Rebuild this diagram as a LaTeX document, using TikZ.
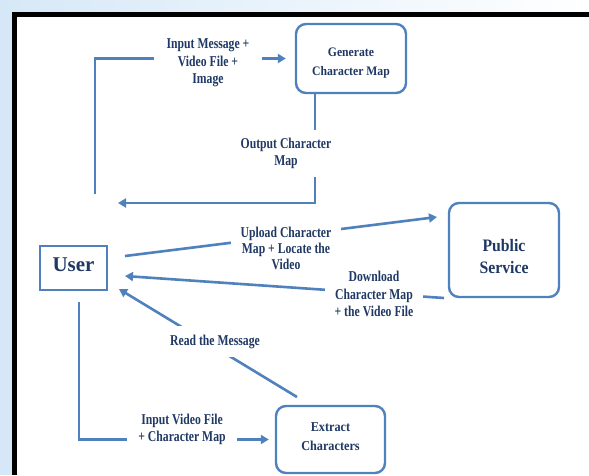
\documentclass[tikz,border=0pt]{standalone}
\usepackage{fontspec}
\setmainfont{Liberation Serif}
\newfontfamily\lblfont{Liberation Serif}[FakeStretch=0.78]
\newfontfamily\boxfont{Liberation Serif}[FakeStretch=0.9]
\usetikzlibrary{arrows.meta}
\definecolor{flowblue}{RGB}{79,129,189}
\definecolor{textnavy}{RGB}{31,56,100}
\definecolor{bgblue}{RGB}{214,232,247}
\begin{document}
\begin{tikzpicture}[x=1pt, y=-1pt,
  box/.style={draw=flowblue, line width=2.4pt, rounded corners=10pt, fill=white, text=textnavy, align=center},
  flow/.style={draw=flowblue, line width=2.6pt, -{Triangle[length=8pt, width=9pt]}},
  lbl/.style={fill=white, text=textnavy, align=center, inner xsep=11pt, inner ysep=5pt, font=\lblfont\bfseries\fontsize{15}{17.5}\selectfont}]
\useasboundingbox (0,0) rectangle (589,475);
\fill[bgblue] (0,0) rectangle (589,475);
\shade[left color=bgblue, right color=white] (0,0) rectangle (589,12);
\fill[white] (17,17) rectangle (589,475);
\fill[black] (12,12) rectangle (589,17);
\fill[black] (12,12) rectangle (17,475);

\node[box, minimum width=110pt, minimum height=69pt, text height=35.8pt, font=\boxfont\bfseries\fontsize{13}{18.3}\selectfont] (gen) at (351,58.5) {Generate\\Character Map};
\node[box, minimum width=110pt, minimum height=94pt, text height=48pt, font=\boxfont\bfseries\fontsize{17.5}{22.3}\selectfont] (pub) at (504,250) {Public\\Service};
\node[box, rounded corners=0pt, minimum width=67pt, minimum height=44pt, text depth=6.6pt, font=\bfseries\fontsize{21}{24}\selectfont] (user) at (73.5,268) {User};
\node[box, minimum width=109pt, minimum height=67pt, text depth=5.6pt, font=\boxfont\bfseries\fontsize{13.6}{19}\selectfont] (ext) at (330.5,439.5) {Extract\\Characters};

\coordinate (inA) at (95,194);
\coordinate (outA) at (315,93);
\coordinate (outB) at (118,203);
\coordinate (upA) at (125,256);
\coordinate (upB) at (437,217);
\coordinate (dnA) at (444,298);
\coordinate (dnB) at (125,276);
\coordinate (rdA) at (297,397);
\coordinate (rdB) at (119,289);
\coordinate (exA) at (79,302);

\draw[flow, shorten >=9pt] (inA) |- (gen.west);
\draw[flow] (outA) |- (outB);
\draw[flow] (upA) -- (upB);
\draw[flow] (dnA) -- (dnB);
\draw[flow] (rdA) -- (rdB);
\draw[flow, shorten >=6pt] (exA) |- (ext.west);

\node[lbl, inner xsep=13pt] (lblIn) at (208,63) {Input Message +\\Video File +\\Image};
\node[lbl, inner ysep=8pt] (lblOut) at (286,153.5) {Output Character\\Map};
\node[lbl, inner xsep=10pt, font=\lblfont\bfseries\fontsize{15}{16}\selectfont] (lblUp) at (286,248) {Upload Character\\Map + Locate the\\Video};
\node[lbl, inner xsep=10pt] (lblDn) at (374,294) {Download\\Character Map\\+ the Video File};
\node[lbl, inner ysep=9pt] (lblRd) at (215,341.5) {Read the Message};
\node[lbl] (lblEx) at (182,429.5) {Input Video File\\+ Character Map};
\end{tikzpicture}
\end{document}
